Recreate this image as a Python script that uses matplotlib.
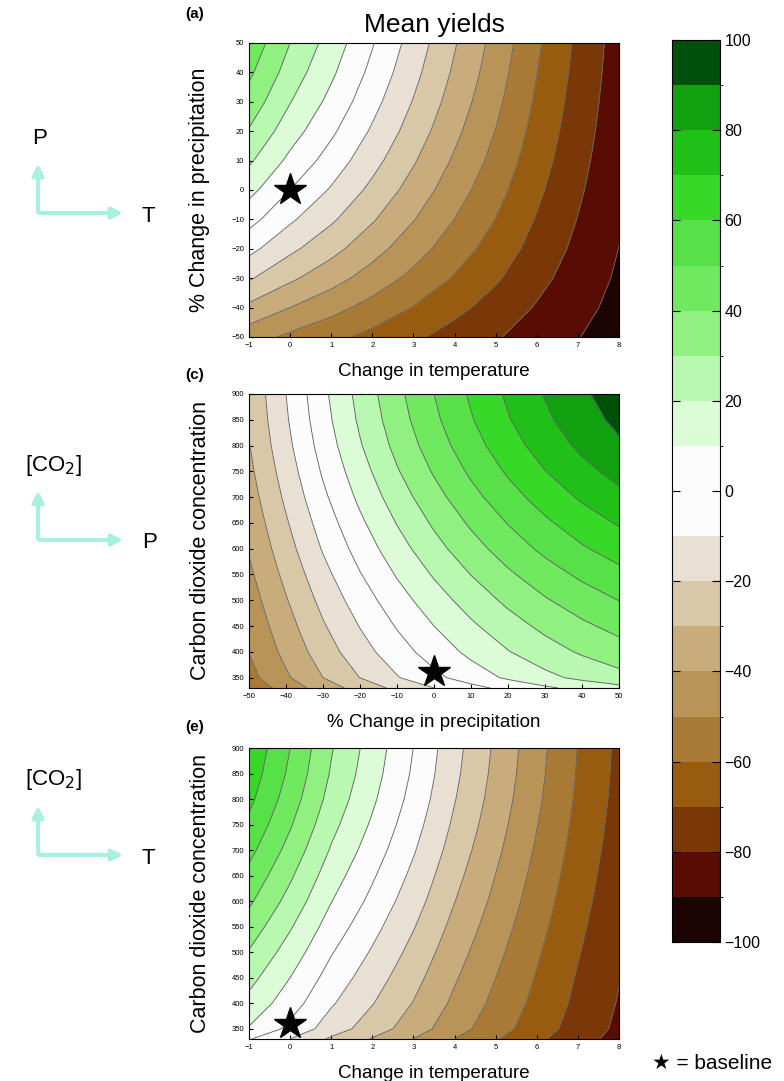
import numpy as np
import matplotlib
matplotlib.use("Agg")
import matplotlib.pyplot as plt
from matplotlib.colors import ListedColormap, BoundaryNorm

plt.rcParams['font.family'] = ['Liberation Sans', 'DejaVu Sans']
plt.rcParams['contour.negative_linestyle'] = 'solid'

# axes of the three response surfaces
temp_change = [-1, 0, 1, 2, 3, 4, 5, 6, 7, 8]                      # deg C
precip_change = [-50, -40, -30, -20, -10, 0, 10, 20, 30, 40, 50]    # %
co2_ppm = [330, 350, 400, 450, 500, 550, 600, 650, 700, 750, 800, 850, 900]

# yield factors relative to baseline (1.0 = no change)
temp_factor_tp = [1.13, 1.00, 0.89, 0.775, 0.66, 0.545, 0.435, 0.32, 0.215, 0.12]
temp_factor_tc = [1.12, 1.00, 0.872, 0.77, 0.666, 0.555, 0.455, 0.357, 0.265, 0.185]
precip_factor = [0.48, 0.60, 0.718, 0.822, 0.916, 1.00, 1.076, 1.144, 1.204, 1.256, 1.30]
co2_factor = [0.90, 0.975, 1.045, 1.10, 1.155, 1.21, 1.265, 1.315, 1.365, 1.41, 1.45, 1.48, 1.50]

baseline_temp = 0
baseline_precip = 0
baseline_co2 = 360

levels = np.arange(-100, 101, 10)
band_colors = ['#1c0404', '#580c04', '#7a3808', '#985c10', '#a87a36',
               '#b89458', '#c8ac7c', '#d8c8a8', '#e8e0d2', '#fcfcfc',
               '#fcfcfc', '#dcfcd8', '#b8f8b0', '#90f080', '#70e860',
               '#58e048', '#38d828', '#20c018', '#10a010', '#004f0a']
cmap = ListedColormap(band_colors)
norm = BoundaryNorm(levels, cmap.N)


def yield_change(fx, fy):
    # percent change in mean yield on the (x, y) grid
    return 100 * (np.outer(fy, fx) - 1)


def draw_panel(ax, x, y, z, star):
    cf = ax.contourf(x, y, z, levels=levels, cmap=cmap, norm=norm)
    ax.contour(x, y, z, levels=levels[1:-1], colors='0.4', linewidths=0.65,
               linestyles='solid')
    ax.plot(*star, marker='*', color='k', ms=24, mec='k', clip_on=False, zorder=5)
    ax.tick_params(direction='in', length=3, labelsize=5.5, top=False, right=False)
    for s in ax.spines.values():
        s.set_linewidth(0.8)
    return cf


def label_axes(ax, xlabel, ylabel):
    ax.set_xlabel(xlabel, fontsize=13.5, labelpad=10)
    ax.set_ylabel(ylabel, fontsize=15.5, labelpad=15)


fig = plt.figure(figsize=(7.84, 10.81), dpi=100)

ax_a = fig.add_axes([0.3176, 0.6883, 0.472, 0.272])
cf = draw_panel(ax_a, temp_change, precip_change,
                yield_change(temp_factor_tp, precip_factor),
                (baseline_temp, baseline_precip))
ax_a.set_xlim(-1, 8)
ax_a.set_ylim(-50, 50)
ax_a.set_xticks(temp_change)
ax_a.set_yticks(precip_change)
label_axes(ax_a, 'Change in temperature', '% Change in precipitation')
ax_a.set_title('Mean yields', fontsize=19, pad=8)

ax_c = fig.add_axes([0.3176, 0.3636, 0.472, 0.272])
draw_panel(ax_c, precip_change, co2_ppm,
           yield_change(precip_factor, co2_factor),
           (baseline_precip, baseline_co2))
ax_c.set_xlim(-50, 50)
ax_c.set_ylim(330, 900)
ax_c.set_xticks(precip_change)
ax_c.set_yticks(co2_ppm[1:])
label_axes(ax_c, '% Change in precipitation', 'Carbon dioxide concentration')

ax_e = fig.add_axes([0.3176, 0.0389, 0.472, 0.269])
draw_panel(ax_e, temp_change, co2_ppm,
           yield_change(temp_factor_tc, co2_factor),
           (baseline_temp, baseline_co2))
ax_e.set_xlim(-1, 8)
ax_e.set_ylim(330, 900)
ax_e.set_xticks(temp_change)
ax_e.set_yticks(co2_ppm[1:])
label_axes(ax_e, 'Change in temperature', 'Carbon dioxide concentration')

# shared colour scale
cax = fig.add_axes([0.857, 1 - 942 / 1081, 0.0612, 902 / 1081])
cb = fig.colorbar(cf, cax=cax, ticks=np.arange(-100, 101, 20))
cb.outline.set_linewidth(0.8)
cax.tick_params(direction='in', length=6, left=True, right=True, labelsize=11.5)

# overlay in pixel coordinates for the axis sketches and labels
ov = fig.add_axes([0, 0, 1, 1])
ov.set_xlim(0, 784)
ov.set_ylim(1081, 0)
ov.axis('off')

arrow_col = '#a8f0e0'
sketches = [((38, 213), 'P', 'T'), ((38, 540), '[CO$_2$]', 'P'), ((38, 855), '[CO$_2$]', 'T')]
for (cx, cy), up_lbl, right_lbl in sketches:
    ov.annotate('', xy=(cx, cy - 52), xytext=(cx, cy + 1.5),
                arrowprops=dict(arrowstyle='-|>', color=arrow_col, lw=3, mutation_scale=16))
    ov.annotate('', xy=(cx + 88, cy), xytext=(cx - 1.5, cy),
                arrowprops=dict(arrowstyle='-|>', color=arrow_col, lw=3, mutation_scale=16))
    ov.text(cx + 2 if up_lbl == 'P' else 25, cy - 75, up_lbl, fontsize=16,
            ha='center' if up_lbl == 'P' else 'left', va='center')
    ov.text(cx + 104, cy + 3, right_lbl, fontsize=16, va='center')

for lbl, y in [('(a)', 14), ('(c)', 375), ('(e)', 727)]:
    ov.text(185, y, lbl, fontsize=11, fontweight='bold', ha='left', va='center')

ov.text(652, 1063, '\u2605 = baseline', fontsize=15, va='center', ha='left')

fig.savefig('out.png', dpi=100)
